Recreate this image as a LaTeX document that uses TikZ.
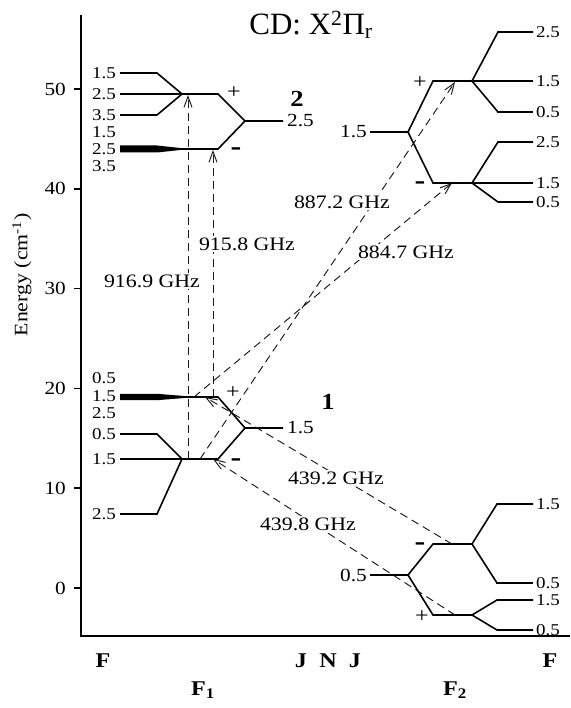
\documentclass[tikz,border=0pt]{standalone}
\usepackage{fontspec}
\setmainfont[FakeStretch=1.15]{Liberation Serif}
\newfontfamily\ttlfont{Liberation Serif}
\usetikzlibrary{arrows.meta}
\begin{document}
\begin{tikzpicture}[x=1pt,y=-1pt,
  lvl/.style={line width=1.6pt},
  thk/.style={line width=2.6pt},
  axisln/.style={line width=1.6pt},
  trans/.style={line width=0.95pt, black!90, dash pattern=on 8pt off 5pt,
    -{Straight Barb[length=11pt,width=8pt,line width=0.95pt]}},
  flbl/.style={inner sep=0pt, font=\fontsize{16.5}{16.5}\selectfont},
  jlbl/.style={inner sep=0pt, font=\fontsize{18.5}{18.5}\selectfont},
  freq/.style={fill=white, inner sep=1.5pt, font=\fontsize{19}{19}\selectfont},
  sgn/.style={inner sep=0pt, font=\fontsize{21}{21}\selectfont},
  msgn/.style={inner sep=0pt, font=\bfseries\fontsize{28}{28}\selectfont},
  blbl/.style={inner sep=0pt, anchor=base, font=\bfseries\fontsize{21}{21}\selectfont},
  nlbl/.style={inner sep=0pt, font=\bfseries\fontsize{23}{23}\selectfont},
  ticklbl/.style={inner sep=0pt, anchor=east, font=\fontsize{18.5}{18.5}\selectfont}]
\useasboundingbox (0,0) rectangle (570,708);

% axes
\draw[axisln] (81,15) -- (81,636) -- (570,636);
\foreach \e/\yy in {0/588,10/488.2,20/388.4,30/288.6,40/188.8,50/89}{
  \draw[axisln] (74,\yy) -- (81,\yy);
  \node[ticklbl] (t\e) at (66,\yy) {\e};
}
\node[inner sep=0pt, rotate=90, font=\fontsize{19}{19}\selectfont] (ylab) at (22,275) {Energy (cm\textsuperscript{-1})};

% title
\node[inner sep=0pt, anchor=base, font=\ttlfont\fontsize{31}{31}\selectfont] (title) at (311,35)
  {CD: X\textsuperscript{2}Π\textsubscript{r}};

% ---- state 2 (F1, J=2.5)
\draw[lvl] (120,73) -- (157,73) -- (182,94);
\draw[lvl] (120,115) -- (157,115) -- (182,94);
\draw[lvl] (120,94) -- (218,94) -- (245,121) -- (283,121);
\fill (120,145.5) -- (157,145.5) -- (183,148.3) -- (183,149.7) -- (157,152.5) -- (120,152.5) -- cycle;
\draw[lvl] (120,149) -- (218,149) -- (245,121);

% ---- state 1 (F1, J=1.5)
\fill (120,393.8) -- (157,393.8) -- (188,396.3) -- (188,397.7) -- (157,400.2) -- (120,400.2) -- cycle;
\draw[lvl] (120,397) -- (218,397) -- (245,428) -- (283,428);
\draw[lvl] (120,459) -- (218,459) -- (245,428);
\draw[lvl] (120,434) -- (157,434) -- (182,459);
\draw[lvl] (120,514) -- (157,514) -- (182,459);

% ---- upper right (F2, J=1.5)
\draw[lvl] (370,132) -- (408,132) -- (433,81) -- (533,81);
\draw[lvl] (408,132) -- (433,183) -- (533,183);
\draw[lvl] (472,81) -- (498,32) -- (533,32);
\draw[lvl] (472,81) -- (498,112);
\draw[thk] (497,112) -- (533,112);
\draw[lvl] (472,183) -- (498,142) -- (533,142);
\draw[lvl] (472,183) -- (498,202) -- (533,202);

% ---- lower right (F2, J=0.5)
\draw[lvl] (370,575) -- (408,575) -- (433,544) -- (472,544);
\draw[lvl] (408,575) -- (433,615) -- (472,615);
\draw[lvl] (472,544) -- (497,504) -- (533,504);
\draw[lvl] (472,544) -- (497,583);
\draw[thk] (496,583) -- (533,583);
\draw[lvl] (472,615) -- (497,600) -- (533,600);
\draw[lvl] (472,615) -- (497,630) -- (533,630);

% F labels left
\node[flbl, anchor=east] (l1) at (116,73) {1.5};
\node[flbl, anchor=east] (l2) at (116,94) {2.5};
\node[flbl, anchor=east] (l3) at (116,115) {3.5};
\node[flbl, anchor=east] (l4) at (116,132) {1.5};
\node[flbl, anchor=east] (l5) at (116,149) {2.5};
\node[flbl, anchor=east] (l6) at (116,166) {3.5};
\node[flbl, anchor=east] (l7) at (116,378) {0.5};
\node[flbl, anchor=east] (l8) at (116,396) {1.5};
\node[flbl, anchor=east] (l9) at (116,413) {2.5};
\node[flbl, anchor=east] (l10) at (116,434) {0.5};
\node[flbl, anchor=east] (l11) at (116,459) {1.5};
\node[flbl, anchor=east] (l12) at (116,514) {2.5};

% F labels right
\node[flbl, anchor=west] (r1) at (536,32) {2.5};
\node[flbl, anchor=west] (r2) at (536,81) {1.5};
\node[flbl, anchor=west] (r3) at (536,112) {0.5};
\node[flbl, anchor=west] (r4) at (536,142) {2.5};
\node[flbl, anchor=west] (r5) at (536,183) {1.5};
\node[flbl, anchor=west] (r6) at (536,202) {0.5};
\node[flbl, anchor=west] (r7) at (536,504) {1.5};
\node[flbl, anchor=west] (r8) at (536,583) {0.5};
\node[flbl, anchor=west] (r9) at (536,600) {1.5};
\node[flbl, anchor=west] (r10) at (536,630) {0.5};

% J labels
\node[jlbl, anchor=west] (j1) at (287,121) {2.5};
\node[jlbl, anchor=west] (j2) at (287,428) {1.5};
\node[jlbl, anchor=east] (j3) at (367,132) {1.5};
\node[jlbl, anchor=east] (j4) at (367,575) {0.5};

% parity signs
\node[sgn] (p1) at (234,93) {+};
\node[msgn] (m1) at (236,152) {-};
\node[sgn] (p2) at (233,393) {+};
\node[msgn] (m2) at (236,463) {-};
\node[sgn] (p3) at (420,83) {+};
\node[msgn] (m3) at (420,186) {-};
\node[msgn] (m4) at (420,547) {-};
\node[sgn] (p4) at (422,617) {+};

% state numbers
\node[nlbl] (n2) at (297,99) {2};
\node[nlbl] (n1) at (328,402) {1};

% transitions
\coordinate (a1s) at (188,459); \coordinate (a1e) at (188,95);
\coordinate (a2s) at (213,397); \coordinate (a2e) at (213,150);
\coordinate (a3s) at (200,459); \coordinate (a3e) at (455,82);
\coordinate (a4s) at (194,397); \coordinate (a4e) at (452,183);
\coordinate (a5s) at (452,544); \coordinate (a5e) at (205,397);
\coordinate (a6s) at (455,615); \coordinate (a6e) at (213,459);
\draw[trans] (a1s) -- (a1e);
\draw[trans] (a2s) -- (a2e);
\draw[trans] (a3s) -- (a3e);
\draw[trans] (a4s) -- (a4e);
\draw[trans] (a5s) -- (a5e);
\draw[trans] (a6s) -- (a6e);

\node[freq] (f1) at (152,281) {916.9 GHz};
\node[freq] (f2) at (247,244) {915.8 GHz};
\node[freq] (f3) at (342,202) {887.2 GHz};
\node[freq] (f4) at (406,252) {884.7 GHz};
\node[freq] (f5) at (336,478) {439.2 GHz};
\node[freq] (f6) at (308,524) {439.8 GHz};

% bottom labels
\node[blbl] (bF1) at (103,667) {F};
\node[blbl] (bJ1) at (301,667) {J};
\node[blbl] (bN) at (328,667) {N};
\node[blbl] (bJ2) at (355,667) {J};
\node[blbl] (bF2) at (550,667) {F};
\node[blbl] (bFa) at (203,695) {F\textsubscript{1}};
\node[blbl] (bFb) at (455,695) {F\textsubscript{2}};
\end{tikzpicture}
\end{document}
